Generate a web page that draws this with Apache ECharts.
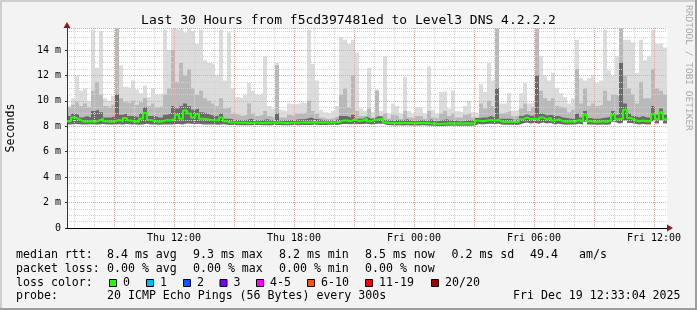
<!DOCTYPE html>
<html><head><meta charset="utf-8">
<script src="https://cdn.jsdelivr.net/npm/echarts@6/dist/echarts.min.js"></script>
<style>html,body{margin:0;padding:0;background:#f3f3f3;}#c{width:697px;height:310px;}</style>
</head><body><div id="c"></div>
<script>
// ---- data ----
const startHour = 6.65;      // Thu 06:39
const stepHours = 0.2;       // 12 min per bin
const medianRtt = [
 8.40,8.70,8.55,8.40,8.35,8.40,8.35,8.45,8.60,8.40,
 8.35,8.40,8.50,8.40,8.65,8.45,8.40,8.35,8.60,9.05,
 8.50,8.40,8.35,8.40,8.50,8.45,8.60,8.90,8.60,9.25,
 9.00,8.70,8.95,8.60,8.55,8.50,8.50,8.45,8.70,8.40,
 8.30,8.30,8.28,8.27,8.28,8.26,8.27,8.28,8.26,8.27,
 8.27,8.28,8.30,8.27,8.26,8.27,8.28,8.27,8.29,8.30,
 8.30,8.32,8.30,8.29,8.30,8.31,8.30,8.33,8.45,8.45,
 8.40,8.55,8.40,8.45,8.60,8.40,8.50,8.55,8.60,8.30,
 8.26,8.25,8.26,8.25,8.26,8.25,8.24,8.25,8.26,8.25,
 8.23,8.22,8.18,8.20,8.22,8.23,8.22,8.23,8.22,8.23,
 8.22,8.24,8.45,8.40,8.45,8.50,8.45,8.50,8.35,8.36,
 8.35,8.34,8.36,8.55,8.70,8.55,8.60,8.50,8.70,8.55,
 8.65,8.45,8.55,8.40,8.35,8.40,8.35,8.50,8.40,8.90,
 8.40,8.35,8.35,8.40,8.35,8.45,8.90,8.55,8.60,9.30,
 8.65,8.50,8.40,8.45,8.40,8.40,8.95,8.55,9.10,8.55];
const maxRtt = [
 9.6,10.2,12.0,10.8,11.0,10.0,15.6,12.6,15.5,10.2,
 10.0,10.4,15.7,12.8,11.1,11.0,11.6,10.9,10.6,11.2,
 10.3,11.0,10.5,10.6,15.6,14.0,15.7,15.6,15.7,15.4,
 15.7,15.5,14.5,15.6,13.2,13.0,12.9,12.0,15.6,11.6,
 15.4,11.0,10.3,10.2,10.5,11.4,10.8,10.5,10.6,13.5,
 9.6,9.4,13.0,9.3,9.2,9.8,9.7,9.8,9.9,9.8,
 15.6,12.9,11.6,9.3,9.1,9.0,9.2,9.6,15.0,14.8,
 14.5,14.8,13.8,9.4,9.2,12.6,9.1,10.9,9.2,13.5,
 9.0,9.8,9.6,9.0,11.9,9.2,9.0,9.5,9.4,9.0,
 12.7,9.3,9.0,10.7,10.8,9.4,10.8,9.2,9.1,9.6,
 10.0,9.1,9.0,11.3,10.7,13.0,11.6,15.7,9.8,9.8,
 10.6,9.2,9.3,10.6,11.4,9.8,9.9,15.7,13.5,12.0,
 11.6,12.2,11.0,10.6,10.3,9.8,10.2,14.8,11.8,11.6,
 11.8,12.0,11.4,11.6,15.6,12.4,12.0,13.5,15.7,14.8,
 14.8,14.6,12.2,14.8,13.2,13.5,15.6,14.5,14.5,14.2];
const midRtt = [
 9.5,9.7,9.9,9.6,9.8,9.5,10.8,11.5,10.5,9.6,
 9.5,9.7,15.7,10.2,9.9,9.8,10.0,9.7,9.9,10.2,
 9.6,9.8,9.5,9.6,10.5,11.0,14.0,11.5,13.0,12.0,
 12.5,11.0,10.5,10.8,10.2,10.0,9.8,9.6,10.2,9.4,
 9.5,9.0,8.9,8.8,8.9,9.8,9.0,8.8,8.9,9.2,
 8.8,8.7,12.8,8.7,8.7,8.9,8.8,9.0,9.0,9.1,
 10.0,9.2,9.0,8.7,8.6,8.6,8.7,8.8,10.5,11.0,
 9.5,12.0,9.2,8.8,8.8,9.4,8.7,10.8,8.8,9.0,
 8.6,8.9,8.8,8.6,9.2,8.7,8.6,8.8,8.8,8.6,
 9.2,8.7,8.6,9.0,9.2,8.8,9.0,8.7,8.7,8.9,
 9.0,8.7,8.7,9.8,9.4,10.0,9.6,15.7,9.0,9.1,
 9.2,8.8,8.8,9.4,9.8,9.2,9.5,15.7,10.8,10.2,
 10.0,10.2,9.6,9.5,9.4,9.1,9.3,12.5,9.8,11.0,
 9.6,9.8,9.6,9.7,10.8,10.0,10.5,10.4,15.7,12.0,
 11.0,10.5,9.8,11.5,10.2,10.2,12.5,11.0,10.8,10.5];
const darkRtt = [
 8.8,9.0,8.9,8.7,8.8,8.7,9.2,9.3,9.1,8.7,
 8.7,8.8,10.5,8.9,9.0,8.8,8.8,8.7,9.0,9.5,
 8.8,8.8,8.7,8.7,8.9,9.0,9.6,9.4,9.6,9.8,
 9.6,9.3,9.4,9.1,9.0,8.9,8.8,8.8,9.0,8.6,
 8.6,8.5,8.5,8.45,8.5,8.6,8.5,8.45,8.5,8.55,
 8.5,8.45,9.0,8.45,8.45,8.5,8.5,8.55,8.55,8.6,
 8.7,8.6,8.55,8.5,8.45,8.45,8.5,8.55,8.8,8.8,
 8.7,8.9,8.6,8.6,8.75,8.6,8.65,8.8,8.75,8.5,
 8.45,8.5,8.5,8.45,8.55,8.45,8.4,8.45,8.5,8.4,
 8.55,8.4,8.4,8.5,8.55,8.45,8.5,8.4,8.4,8.45,
 8.5,8.4,8.65,8.7,8.7,8.8,8.7,11.0,8.6,8.6,
 8.6,8.5,8.55,8.8,8.95,8.8,8.85,12.0,9.0,8.85,
 8.9,8.8,8.8,8.7,8.65,8.6,8.6,9.0,8.7,9.2,
 8.65,8.6,8.6,8.65,8.7,8.75,9.2,8.9,13.0,9.8,
 9.0,8.8,8.7,8.8,8.7,8.7,9.6,8.9,9.4,8.9];
const minRtt = [
 8.15,8.18,8.16,8.14,8.15,8.16,8.14,8.15,8.17,8.15,
 8.14,8.15,8.16,8.15,8.17,8.15,8.14,8.13,8.15,8.20,
 8.15,8.14,8.13,8.14,8.15,8.14,8.16,8.18,8.15,8.22,
 8.20,8.17,8.19,8.15,8.15,8.14,8.14,8.13,8.16,8.12,
 8.10,8.10,8.09,8.08,8.09,8.08,8.09,8.10,8.08,8.09,
 8.09,8.10,8.11,8.09,8.08,8.09,8.10,8.09,8.10,8.11,
 8.11,8.12,8.11,8.10,8.11,8.12,8.11,8.12,8.18,8.18,
 8.16,8.20,8.16,8.17,8.20,8.15,8.18,8.20,8.20,8.11,
 8.08,8.07,8.08,8.07,8.08,8.07,8.06,8.07,8.08,8.07,
 8.05,8.04,8.02,8.03,8.05,8.05,8.04,8.05,8.04,8.05,
 8.04,8.06,8.18,8.15,8.18,8.20,8.18,8.20,8.12,8.13,
 8.12,8.11,8.13,8.22,8.30,8.22,8.25,8.20,8.30,8.22,
 8.25,8.15,8.20,8.15,8.12,8.14,8.12,8.20,8.15,8.35,
 8.14,8.12,8.12,8.14,8.12,8.16,8.35,8.22,8.25,8.45,
 8.25,8.20,8.15,8.18,8.15,8.15,8.40,8.22,8.45,8.22];
const xTickHours = [12, 18, 24, 30, 36];
const xTickLabels = ['Thu 12:00', 'Thu 18:00', 'Fri 00:00', 'Fri 06:00', 'Fri 12:00'];
const rttStats = ['8.4 ms avg', '9.3 ms max', '8.2 ms min', '8.5 ms now', '0.2 ms sd', '49.4', 'am/s'];
const lossStats = ['0.00 % avg', '0.00 % max', '0.00 % min', '0.00 % now'];
const lossLabels = ['0', '1', '2', '3', '4-5', '6-10', '11-19', '20/20'];
const lossColors = ['#26ff00', '#00b8ff', '#0059ff', '#7e00ff', '#ff00ff', '#ff5500', '#ff0000', '#a10000'];
const titleText = 'Last 30 Hours from f5cd397481ed to Level3 DNS 4.2.2.2';
const probeText = '20 ICMP Echo Pings (56 Bytes) every 300s';
const dateText = 'Fri Dec 19 12:33:04 2025';

// ---- build ----
const N = medianRtt.length;
const endHour = startHour + N * stepHours;
function stepData(arr) {
  const d = arr.map((v, i) => [startHour + i * stepHours, v]);
  d.push([endHour, arr[arr.length - 1]]);
  return d;
}
const MONO = '"DejaVu Sans Mono", "Liberation Mono", monospace';
const yMax = 15.73;

function band(arr, color) {
  return { type: 'line', step: 'end', data: stepData(arr), showSymbol: false, symbol: 'none',
    lineStyle: { width: 0 }, areaStyle: { color: color, opacity: 1 }, z: 2, silent: true, clip: true };
}
const majorHours = [], minorHours = [];
for (let h = Math.ceil(startHour); h < endHour; h++) {
  (h % 3 === 0 ? majorHours : minorHours).push(h);
}
function gridAxis(values, color) {
  return { type: 'value', min: startHour, max: endHour, position: 'bottom', z: 3,
    axisLine: { show: false, onZero: false }, axisLabel: { show: false },
    axisTick: { show: false, customValues: values },
    splitLine: { show: true, lineStyle: { color: color, type: [1, 1], width: 1 } } };
}

const legendRows = [255, 268.5, 282.5, 296];
const graphics = [];
function txt(x, y, s, extra) {
  graphics.push(Object.assign({ type: 'text', x: x, y: y, silent: true,
    style: { text: s, font: '11.6px ' + MONO, fill: '#000', verticalAlign: 'middle', align: 'left' } }, extra || {}));
}
txt(16, legendRows[0], 'median rtt:');
const rttX = [107, 193, 279, 365, 451.5, 530, 579];
rttStats.forEach((s, i) => txt(rttX[i], legendRows[0], s));
txt(16, legendRows[1], 'packet loss:');
const lossX = [107, 193, 279, 365];
lossStats.forEach((s, i) => txt(lossX[i], legendRows[1], s));
txt(16, legendRows[2], 'loss color:');
const boxX = [109, 146, 183, 219.5, 256, 307, 365, 431];
lossLabels.forEach((s, i) => {
  graphics.push({ type: 'rect', silent: true, shape: { x: boxX[i] + 0.5, y: 279.5, width: 7, height: 7 },
    style: { fill: lossColors[i], stroke: '#000', lineWidth: 1 } });
  txt(boxX[i] + 14, legendRows[2], s);
});
txt(16, legendRows[3], 'probe:');
txt(107, legendRows[3], probeText);
txt(513, legendRows[3], dateText);
graphics.push({ type: 'text', x: 688, y: 5, rotation: -Math.PI / 2, silent: true,
  style: { text: 'RRDTOOL / TOBI OETIKER', font: '9.5px ' + MONO, fill: '#a8a8a8', align: 'left', verticalAlign: 'middle' } });
// frame
graphics.push({ type: 'rect', silent: true, shape: { x: 0, y: 0, width: 697, height: 2 }, style: { fill: '#cfcfcf' } });
graphics.push({ type: 'rect', silent: true, shape: { x: 0, y: 0, width: 2, height: 310 }, style: { fill: '#cfcfcf' } });
graphics.push({ type: 'rect', silent: true, shape: { x: 695, y: 0, width: 2, height: 310 }, style: { fill: '#9e9e9e' } });
graphics.push({ type: 'rect', silent: true, shape: { x: 0, y: 308, width: 697, height: 2 }, style: { fill: '#9e9e9e' } });

const chart = echarts.init(document.getElementById('c'), null, { renderer: 'canvas' });
chart.setOption({
  animation: false,
  backgroundColor: '#f3f3f3',
  title: { text: titleText, left: 'center', top: 9,
    textStyle: { fontFamily: MONO, fontSize: 13, fontWeight: 'normal', color: '#000' } },
  grid: { left: 67, top: 28, width: 600, height: 200, show: true, backgroundColor: '#ffffff', borderWidth: 0,
    containLabel: false, outerBoundsMode: 'none' },
  xAxis: [{
    type: 'value', min: startHour, max: endHour, z: 4,
    axisLine: { show: true, onZero: false, lineStyle: { color: '#000', width: 1 } },
    axisTick: { show: false }, splitLine: { show: false },
    axisLabel: { customValues: xTickHours, formatter: v => { const k = xTickHours.indexOf(Math.round(v)); return k >= 0 ? xTickLabels[k] : ''; },
      fontFamily: MONO, fontSize: 10, color: '#000', margin: 5, showMinLabel: true, showMaxLabel: true, hideOverlap: false }
  }, {
    type: 'value', min: startHour, max: endHour, position: 'bottom', z: 4,
    axisLine: { show: true, onZero: false, symbol: ['none', 'triangle'], symbolSize: [7, 6], symbolOffset: [0, 3], lineStyle: { color: '#8b1a1a', width: 0 } },
    axisTick: { show: false }, axisLabel: { show: false }, splitLine: { show: false }
  },
  gridAxis(minorHours, '#d2d2d2'),
  gridAxis(majorHours, '#f4a0a0')],
  yAxis: [{
    type: 'value', min: 0, max: yMax, interval: 2, z: 3,
    name: 'Seconds', nameLocation: 'middle', nameGap: 50, nameRotate: 90,
    nameTextStyle: { fontFamily: MONO, fontSize: 11.6, color: '#000' },
    axisLine: { show: true, lineStyle: { color: '#333', width: 1 } },
    axisTick: { show: true, length: 2, lineStyle: { color: '#333' } },
    axisLabel: { formatter: v => v === 0 ? '0' : v + ' m', fontFamily: MONO, fontSize: 10, color: '#000', margin: 6, showMaxLabel: false },
    splitLine: { show: true, lineStyle: { color: '#f4a0a0', type: [1, 1], width: 1 } },
    minorTick: { show: false, splitNumber: 4 },
    minorSplitLine: { show: true, lineStyle: { color: '#d2d2d2', type: [1, 1], width: 1 } }
  }, {
    type: 'value', min: 0, max: yMax, position: 'left', z: 4,
    axisLine: { show: true, symbol: ['none', 'triangle'], symbolSize: [7, 6], symbolOffset: [0, 3], lineStyle: { color: '#8b1a1a', width: 0 } },
    axisTick: { show: false }, axisLabel: { show: false }, splitLine: { show: false }
  }],
  series: [
    band(maxRtt, '#dcdcdc'),
    band(midRtt, '#b9b9b9'),
    band(darkRtt, '#6a6a6a'),
    band(minRtt, '#ffffff'),
    { type: 'line', step: 'end', data: stepData(medianRtt), showSymbol: false, symbol: 'none',
      lineStyle: { color: '#26ff00', width: 2 }, z: 10, silent: true, clip: true }
  ],
  graphic: graphics
});
</script></body></html>
